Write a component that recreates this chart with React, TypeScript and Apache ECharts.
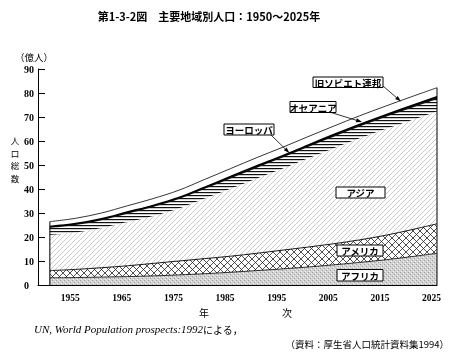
import { useEffect, useRef } from "react";
import * as echarts from "echarts";

// Years and band values (億人)
const years = [1950, 1955, 1960, 1965, 1970, 1975, 1980, 1985, 1990, 1995, 2000, 2005, 2010, 2015, 2020, 2025];
const africa = [3.0, 3.1, 3.3, 3.5, 3.8, 4.2, 4.7, 5.3, 6.0, 6.7, 7.5, 8.4, 9.4, 10.5, 11.8, 13.2];
const america = [3.0, 3.4, 3.9, 4.5, 5.2, 5.8, 6.3, 6.7, 7.2, 7.8, 8.3, 8.8, 9.4, 10.2, 11.2, 12.3];
const asia = [14.9, 15.4, 16.5, 18.2, 19.8, 21.9, 25.0, 28.1, 31.1, 33.9, 37.0, 39.8, 42.3, 44.3, 45.6, 46.8];
const europe = [2.9, 3.1, 3.3, 3.5, 3.7, 3.9, 4.1, 4.3, 4.5, 4.6, 4.7, 4.8, 4.9, 5.0, 5.1, 5.2];
const oceania = [0.6, 0.6, 0.6, 0.7, 0.7, 0.7, 0.7, 0.8, 0.8, 0.8, 0.8, 0.9, 0.9, 0.9, 1.0, 1.0];
const ussr = [2.0, 2.2, 2.4, 2.6, 2.8, 3.0, 3.2, 3.3, 3.4, 3.5, 3.5, 3.5, 3.6, 3.6, 3.7, 3.7];
const yearLabels = [1955, 1965, 1975, 1985, 1995, 2005, 2015, 2025];
const yMin = 0;
const yMax = 90;
const yStep = 10;

const SANS = '"Noto Sans CJK JP", "Noto Sans", sans-serif';
const SERIF = '"Liberation Serif", "DejaVu Serif", serif';

function makePattern(w: number, h: number, draw: (ctx: CanvasRenderingContext2D) => void) {
  const c = document.createElement("canvas");
  c.width = w;
  c.height = h;
  const ctx = c.getContext("2d") as CanvasRenderingContext2D;
  draw(ctx);
  return { image: c.toDataURL(), repeat: "repeat", imageWidth: w, imageHeight: h } as any;
}

function arrow(x1: number, y1: number, x2: number, y2: number) {
  const ang = Math.atan2(y2 - y1, x2 - x1);
  const L = 6, W = 2;
  const bx = x2 - L * Math.cos(ang), by = y2 - L * Math.sin(ang);
  const px = -Math.sin(ang) * W, py = Math.cos(ang) * W;
  return [
    { type: "line", shape: { x1, y1, x2: bx, y2: by }, style: { stroke: "#000", lineWidth: 0.8 }, z: 20 },
    { type: "polygon", shape: { points: [[x2, y2], [bx + px, by + py], [bx - px, by - py]] }, style: { fill: "#000" }, z: 20 },
  ];
}

function box(x: number, y: number, w: number, h: number, text: string) {
  return [
    { type: "rect", shape: { x, y, width: w, height: h }, style: { fill: "#fff", stroke: "#000", lineWidth: 1 }, z: 20 },
    {
      type: "text",
      x: x + w / 2,
      y: y + h / 2 + 0.5,
      z: 21,
      style: { text, fill: "#000", font: `bold 9.5px ${SANS}`, align: "center", verticalAlign: "middle" },
    },
  ];
}

function cumulative(...layers: number[][]) {
  return years.map((_, i) => layers.reduce((s, l) => s + l[i], 0));
}

export default function App() {
  const ref = useRef<HTMLDivElement>(null);

  useEffect(() => {
    document.body.style.margin = "0";
    if (!ref.current) return;
    const chart = echarts.init(ref.current, null, { renderer: "svg" });

    const asiaPat = makePattern(5, 5, (ctx) => {
      ctx.fillStyle = "#fff";
      ctx.fillRect(0, 0, 5, 5);
      ctx.strokeStyle = "#a6a6a6";
      ctx.lineWidth = 0.6;
      ctx.beginPath();
      ctx.moveTo(-1, 6); ctx.lineTo(6, -1);
      ctx.moveTo(-1, 1); ctx.lineTo(1, -1);
      ctx.moveTo(4, 6); ctx.lineTo(6, 4);
      ctx.stroke();
    });
    const europePat = makePattern(4, 3, (ctx) => {
      ctx.fillStyle = "#fff";
      ctx.fillRect(0, 0, 4, 3);
      ctx.fillStyle = "#111";
      ctx.fillRect(0, 0, 4, 1.2);
    });
    const americaPat = makePattern(7, 7, (ctx) => {
      ctx.fillStyle = "#fff";
      ctx.fillRect(0, 0, 7, 7);
      ctx.strokeStyle = "#222";
      ctx.lineWidth = 0.8;
      ctx.beginPath();
      ctx.moveTo(0, 0); ctx.lineTo(7, 7);
      ctx.moveTo(0, 7); ctx.lineTo(7, 0);
      ctx.stroke();
    });
    const africaPat = makePattern(4, 4, (ctx) => {
      ctx.fillStyle = "#d2d2d2";
      ctx.fillRect(0, 0, 4, 4);
      ctx.fillStyle = "#a0a0a0";
      ctx.fillRect(0, 0, 1, 1);
      ctx.fillRect(2, 2, 1, 1);
      ctx.fillStyle = "#f2f2f2";
      ctx.fillRect(3, 1, 1, 1);
      ctx.fillRect(1, 3, 1, 1);
    });

    const cAfrica = cumulative(africa);
    const cAmerica = cumulative(africa, america);
    const cAsia = cumulative(africa, america, asia);
    const cEurope = cumulative(africa, america, asia, europe);
    const cOceania = cumulative(africa, america, asia, europe, oceania);
    const cTotal = cumulative(africa, america, asia, europe, oceania, ussr);
    const last = years.length - 1;

    // Each layer fills from its cumulative top down to 0; later series paint over earlier ones.
    const layer = (name: string, vals: number[], fill: any, lw: number, z: number) => ({
      type: "line",
      name,
      symbol: "none",
      smooth: 0.35,
      silent: true,
      data: years.map((y, i) => [y, vals[i]]),
      lineStyle: { color: "#000", width: lw },
      areaStyle: { color: fill, opacity: 1 },
      z,
    });

    const edge = (i: number) => ({
      type: "line",
      symbol: "none",
      silent: true,
      data: [[years[i], 0], [years[i], cTotal[i]]],
      lineStyle: { color: "#000", width: 1 },
      z: 10,
    });

    chart.setOption({
      animation: false,
      grid: { left: 38, right: 15, top: 69, bottom: 78 },
      xAxis: {
        type: "value",
        min: 1947.7,
        max: 2025,
        axisLine: { lineStyle: { color: "#000", width: 1 } },
        axisTick: { show: false },
        splitLine: { show: false },
        z: 12,
        axisLabel: {
          customValues: yearLabels,
          formatter: (v: number) => String(v),
          color: "#000",
          fontFamily: SERIF,
          fontSize: 9.5,
          fontWeight: "bold",
          margin: 8,
          padding: [0, 11, 0, 0],
        },
      },
      yAxis: {
        type: "value",
        min: yMin,
        max: yMax,
        interval: yStep,
        axisLine: { show: true, lineStyle: { color: "#000", width: 1 } },
        axisTick: { show: true, inside: true, length: 7, lineStyle: { color: "#000" } },
        splitLine: { show: false },
        axisLabel: {
          color: "#000",
          fontFamily: SERIF,
          fontSize: 10,
          fontWeight: "bold",
          align: "left",
          margin: 14,
        },
      },
      series: [
        layer("旧ソビエト連邦", cTotal, "#fff", 0.8, 2),
        layer("オセアニア", cOceania, "#111", 1.4, 3),
        layer("ヨーロッパ", cEurope, europePat, 0, 4),
        layer("アジア", cAsia, asiaPat, 0, 5),
        layer("アメリカ", cAmerica, americaPat, 0.9, 6),
        layer("アフリカ", cAfrica, africaPat, 0.8, 7),
        edge(0),
        edge(last),
      ],
      graphic: [
        {
          type: "text",
          x: 209,
          y: 16,
          style: {
            text: "第1-3-2図　主要地域別人口：1950～2025年",
            fill: "#000",
            font: `bold 11px ${SANS}`,
            align: "center",
            verticalAlign: "middle",
          },
        },
        {
          type: "text",
          x: 34,
          y: 57,
          style: { text: "（億人）", fill: "#000", font: `9.5px ${SANS}`, align: "center", verticalAlign: "middle" },
        },
        ...["人", "口", "総", "数"].map((ch, i) => ({
          type: "text",
          x: 15,
          y: 140 + i * 12.5,
          style: { text: ch, fill: "#000", font: `8.5px ${SANS}`, align: "center", verticalAlign: "middle" },
        })),
        { type: "text", x: 204, y: 312, style: { text: "年", fill: "#000", font: `10px ${SANS}`, align: "center", verticalAlign: "middle" } },
        { type: "text", x: 287, y: 312, style: { text: "次", fill: "#000", font: `10px ${SANS}`, align: "center", verticalAlign: "middle" } },
        {
          type: "text",
          x: 34,
          y: 329,
          style: {
            text: "{a|UN, World Population prospects:1992}{b|による，}",
            verticalAlign: "middle",
            rich: {
              a: { fill: "#000", fontFamily: SERIF, fontStyle: "italic", fontSize: 11 },
              b: { fill: "#000", fontFamily: SANS, fontSize: 10 },
            },
          },
        },
        {
          type: "text",
          x: 449,
          y: 344,
          style: {
            text: "（資料：厚生省人口統計資料集1994）",
            fill: "#000",
            font: `9.5px ${SANS}`,
            align: "right",
            verticalAlign: "middle",
          },
        },
        ...box(313, 77, 70, 10.5, "旧ソビエト連邦"),
        ...arrow(383, 86, 401, 101.5),
        ...box(290, 101.5, 46, 11, "オセアニア"),
        ...arrow(331, 112.5, 362, 122),
        ...box(224, 124, 50, 11, "ヨーロッパ"),
        ...arrow(271, 135, 289.5, 153),
        ...box(336, 187, 49, 11, "アジア"),
        ...box(337, 245, 46, 11, "アメリカ"),
        ...box(337, 269.5, 46, 11.5, "アフリカ"),
      ],
    });

    return () => chart.dispose();
  }, []);

  return <div ref={ref} style={{ position: "fixed", left: 0, top: 0, width: 452, height: 363 }} />;
}
